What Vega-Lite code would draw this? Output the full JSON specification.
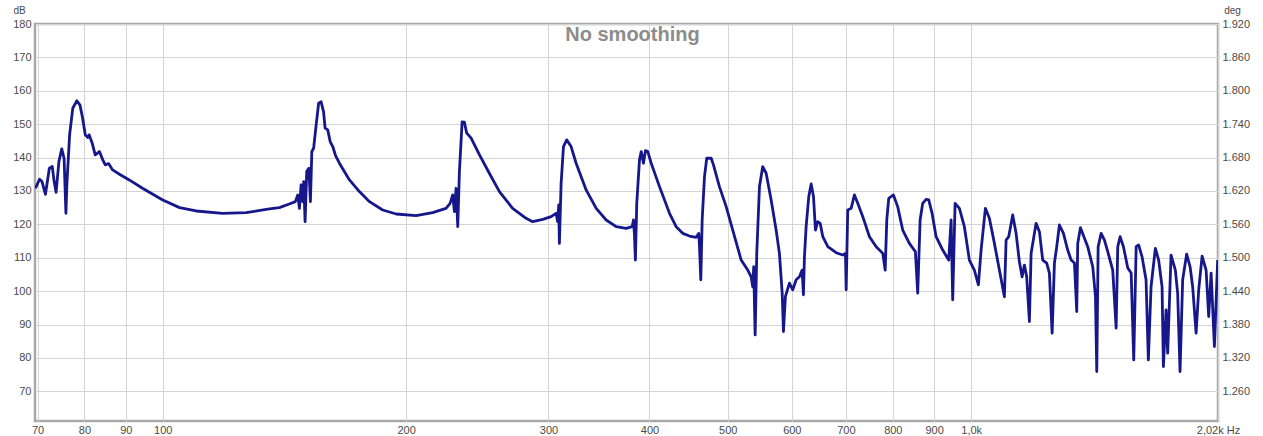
{
  "$schema": "https://vega.github.io/schema/vega-lite/v6.json",
  "autosize": "none",
  "width": 1183,
  "height": 397,
  "padding": {"left": 35, "top": 24, "right": 45, "bottom": 15},
  "background": "white",
  "config": {
    "view": {"stroke": "#a8a8a8", "strokeWidth": 2.5},
    "font": "Liberation Sans",
    "axis": {"labelFont": "Liberation Sans", "labelFontSize": 11, "labelColor": "#4a4a4a", "titleFont": "Liberation Sans", "titleFontWeight": "normal", "titleFontSize": 10, "titleColor": "#4a4a4a", "domain": false, "ticks": false, "gridColor": "#d4d4d4", "gridWidth": 1}
  },
  "title": {"text": "No smoothing", "fontSize": 20, "fontWeight": "bold", "color": "#8c8c8c", "font": "Liberation Sans", "offset": -40, "anchor": "middle", "dx": 6},
  "data": {"values": [
    {"hz":69.6,"db":130.8},{"hz":70.4,"db":133.5},{"hz":70.9,"db":132.8},{"hz":71.6,"db":129.0},{"hz":72.4,"db":136.8},{"hz":73.0,"db":137.3},{"hz":73.4,"db":132.8},{"hz":73.8,"db":129.6},{"hz":74.4,"db":138.8},{"hz":75.0,"db":142.6},{"hz":75.5,"db":139.8},{"hz":75.9,"db":123.3},{"hz":76.1,"db":131.8},{"hz":76.7,"db":146.8},{"hz":77.4,"db":154.8},{"hz":78.3,"db":157.0},{"hz":79.0,"db":155.7},{"hz":79.6,"db":151.8},{"hz":80.2,"db":146.8},{"hz":80.8,"db":146.0},{"hz":81.1,"db":146.8},{"hz":81.8,"db":144.3},{"hz":82.5,"db":140.8},{"hz":83.5,"db":141.8},{"hz":84.3,"db":139.3},{"hz":84.9,"db":137.8},{"hz":85.7,"db":138.2},{"hz":86.7,"db":136.3},{"hz":88.4,"db":135.0},{"hz":90.9,"db":133.3},{"hz":94.4,"db":130.8},{"hz":100.0,"db":127.3},{"hz":104.9,"db":125.0},{"hz":110.0,"db":124.0},{"hz":118.6,"db":123.3},{"hz":126.8,"db":123.5},{"hz":135.5,"db":124.6},{"hz":139.4,"db":125.0},{"hz":143.4,"db":126.1},{"hz":145.9,"db":126.8},{"hz":146.9,"db":128.8},{"hz":147.6,"db":124.8},{"hz":148.3,"db":131.8},{"hz":149.0,"db":126.8},{"hz":149.4,"db":132.8},{"hz":150.0,"db":120.8},{"hz":150.7,"db":135.8},{"hz":151.6,"db":136.8},{"hz":152.3,"db":126.8},{"hz":152.9,"db":141.8},{"hz":153.7,"db":142.8},{"hz":154.8,"db":149.8},{"hz":155.9,"db":156.3},{"hz":157.0,"db":156.7},{"hz":158.1,"db":153.7},{"hz":158.8,"db":148.8},{"hz":160.0,"db":148.3},{"hz":161.1,"db":144.8},{"hz":162.3,"db":143.3},{"hz":163.6,"db":140.6},{"hz":165.4,"db":138.3},{"hz":170.2,"db":133.3},{"hz":175.1,"db":129.8},{"hz":180.2,"db":126.8},{"hz":187.1,"db":124.3},{"hz":194.4,"db":123.1},{"hz":205.8,"db":122.6},{"hz":215.7,"db":123.5},{"hz":224.1,"db":124.8},{"hz":226.7,"db":126.3},{"hz":228.4,"db":128.8},{"hz":229.5,"db":123.8},{"hz":230.6,"db":130.8},{"hz":231.7,"db":119.3},{"hz":232.8,"db":135.8},{"hz":234.6,"db":150.7},{"hz":236.1,"db":150.6},{"hz":237.7,"db":147.3},{"hz":240.7,"db":145.8},{"hz":246.5,"db":140.8},{"hz":253.5,"db":135.3},{"hz":260.9,"db":129.8},{"hz":270.9,"db":124.8},{"hz":281.5,"db":121.8},{"hz":286.8,"db":120.8},{"hz":295.2,"db":121.5},{"hz":302.3,"db":122.3},{"hz":306.6,"db":123.3},{"hz":308.0,"db":120.8},{"hz":308.9,"db":125.8},{"hz":309.5,"db":114.3},{"hz":311.0,"db":132.1},{"hz":313.1,"db":143.3},{"hz":316.0,"db":145.3},{"hz":320.0,"db":143.3},{"hz":324.6,"db":138.3},{"hz":334.0,"db":130.3},{"hz":343.7,"db":124.8},{"hz":353.6,"db":121.3},{"hz":363.8,"db":119.3},{"hz":374.3,"db":118.8},{"hz":380.8,"db":119.3},{"hz":382.2,"db":121.3},{"hz":383.3,"db":116.8},{"hz":384.3,"db":109.3},{"hz":385.8,"db":126.3},{"hz":388.8,"db":139.3},{"hz":390.7,"db":141.8},{"hz":393.2,"db":138.3},{"hz":395.5,"db":142.1},{"hz":398.1,"db":141.8},{"hz":402.0,"db":138.3},{"hz":411.6,"db":131.3},{"hz":423.5,"db":123.3},{"hz":431.6,"db":119.3},{"hz":439.8,"db":117.3},{"hz":448.3,"db":116.5},{"hz":456.9,"db":116.1},{"hz":460.3,"db":117.3},{"hz":461.2,"db":113.8},{"hz":463.0,"db":103.4},{"hz":464.8,"db":121.3},{"hz":467.9,"db":134.3},{"hz":470.9,"db":139.8},{"hz":476.9,"db":139.8},{"hz":480.0,"db":137.8},{"hz":488.2,"db":131.3},{"hz":497.7,"db":125.3},{"hz":507.1,"db":118.3},{"hz":519.4,"db":109.3},{"hz":529.2,"db":106.3},{"hz":534.4,"db":104.3},{"hz":536.8,"db":101.3},{"hz":538.3,"db":107.3},{"hz":540.5,"db":86.9},{"hz":543.0,"db":111.3},{"hz":547.2,"db":131.3},{"hz":552.3,"db":137.3},{"hz":557.7,"db":135.3},{"hz":565.7,"db":127.3},{"hz":573.8,"db":118.3},{"hz":579.2,"db":111.3},{"hz":583.8,"db":99.4},{"hz":585.9,"db":87.9},{"hz":589.2,"db":98.4},{"hz":596.0,"db":102.4},{"hz":601.6,"db":100.4},{"hz":607.5,"db":103.4},{"hz":613.2,"db":104.3},{"hz":617.9,"db":106.3},{"hz":620.2,"db":98.9},{"hz":622.0,"db":110.3},{"hz":625.0,"db":119.3},{"hz":629.7,"db":128.3},{"hz":634.0,"db":132.1},{"hz":638.2,"db":128.3},{"hz":641.8,"db":118.3},{"hz":646.0,"db":120.8},{"hz":650.5,"db":120.3},{"hz":655.4,"db":116.3},{"hz":664.8,"db":113.3},{"hz":680.8,"db":111.5},{"hz":693.7,"db":110.8},{"hz":699.1,"db":111.3},{"hz":700.5,"db":100.4},{"hz":703.6,"db":124.3},{"hz":710.5,"db":124.8},{"hz":717.2,"db":128.8},{"hz":724.0,"db":126.3},{"hz":734.4,"db":122.3},{"hz":748.5,"db":116.3},{"hz":763.0,"db":113.3},{"hz":777.5,"db":111.3},{"hz":782.8,"db":106.3},{"hz":786.4,"db":121.3},{"hz":790.8,"db":127.8},{"hz":801.4,"db":128.8},{"hz":811.2,"db":125.3},{"hz":822.9,"db":118.3},{"hz":838.7,"db":114.3},{"hz":853.2,"db":111.8},{"hz":858.8,"db":99.4},{"hz":864.7,"db":121.3},{"hz":871.1,"db":126.3},{"hz":879.6,"db":127.5},{"hz":886.2,"db":127.3},{"hz":894.7,"db":123.3},{"hz":905.0,"db":116.3},{"hz":922.2,"db":112.3},{"hz":938.1,"db":109.3},{"hz":944.5,"db":121.3},{"hz":948.8,"db":97.4},{"hz":955.3,"db":126.3},{"hz":967.1,"db":124.8},{"hz":980.9,"db":119.3},{"hz":995.0,"db":109.3},{"hz":1009.2,"db":106.3},{"hz":1020.8,"db":101.9},{"hz":1028.7,"db":112.3},{"hz":1041.4,"db":124.8},{"hz":1053.3,"db":121.8},{"hz":1068.5,"db":114.3},{"hz":1083.8,"db":106.3},{"hz":1099.3,"db":98.3},{"hz":1104.7,"db":115.3},{"hz":1112.9,"db":116.3},{"hz":1125.6,"db":122.8},{"hz":1136.6,"db":117.3},{"hz":1147.3,"db":108.8},{"hz":1156.2,"db":104.3},{"hz":1163.8,"db":107.8},{"hz":1171.4,"db":104.3},{"hz":1180.5,"db":90.9},{"hz":1186.2,"db":111.3},{"hz":1203.2,"db":120.3},{"hz":1214.6,"db":117.8},{"hz":1226.1,"db":109.3},{"hz":1240.1,"db":108.4},{"hz":1249.7,"db":105.4},{"hz":1259.4,"db":87.4},{"hz":1267.7,"db":108.4},{"hz":1276.0,"db":113.3},{"hz":1285.8,"db":119.8},{"hz":1300.6,"db":117.3},{"hz":1316.6,"db":112.3},{"hz":1329.5,"db":109.3},{"hz":1342.1,"db":108.4},{"hz":1350.9,"db":93.9},{"hz":1354.7,"db":114.3},{"hz":1365.2,"db":119.0},{"hz":1380.9,"db":115.8},{"hz":1393.8,"db":113.3},{"hz":1413.9,"db":107.3},{"hz":1424.8,"db":98.4},{"hz":1430.2,"db":75.9},{"hz":1435.8,"db":113.3},{"hz":1448.1,"db":117.3},{"hz":1461.8,"db":115.3},{"hz":1475.6,"db":111.8},{"hz":1496.7,"db":106.3},{"hz":1511.3,"db":88.9},{"hz":1518.2,"db":113.3},{"hz":1528.6,"db":116.3},{"hz":1543.1,"db":113.3},{"hz":1562.2,"db":106.9},{"hz":1577.4,"db":105.4},{"hz":1589.0,"db":79.4},{"hz":1600.0,"db":113.3},{"hz":1611.4,"db":113.8},{"hz":1627.0,"db":110.3},{"hz":1645.7,"db":103.4},{"hz":1656.5,"db":79.4},{"hz":1669.3,"db":101.3},{"hz":1689.9,"db":112.8},{"hz":1705.9,"db":109.3},{"hz":1722.5,"db":101.3},{"hz":1729.0,"db":77.4},{"hz":1742.3,"db":94.4},{"hz":1750.2,"db":81.4},{"hz":1767.2,"db":110.8},{"hz":1788.9,"db":106.3},{"hz":1800.7,"db":99.4},{"hz":1813.0,"db":75.9},{"hz":1826.6,"db":103.4},{"hz":1847.5,"db":111.1},{"hz":1865.6,"db":107.3},{"hz":1879.5,"db":101.3},{"hz":1897.8,"db":87.4},{"hz":1912.0,"db":100.4},{"hz":1930.6,"db":110.5},{"hz":1952.7,"db":106.3},{"hz":1967.2,"db":92.4},{"hz":1980.7,"db":105.4},{"hz":1999.4,"db":83.4},{"hz":2018.1,"db":109.3}
  ]},
  "encoding": {
    "x": {"field": "hz", "type": "quantitative",
      "scale": {"type": "log", "domain": [69.5, 2020], "nice": false},
      "axis": {"title": null, "values": [70, 80, 90, 100, 200, 300, 400, 500, 600, 700, 800, 900, 1000, 2020], "labelExpr": "datum.value >= 2000 ? '2,02k Hz' : datum.value >= 1000 ? '1,0k' : format(datum.value, 'd')", "labelOverlap": false, "labelBound": false, "labelFlush": false, "labelPadding": 3, "labelColor": "#4a4a4a", "grid": true}}
  },
  "layer": [
    {
      "mark": {"type": "line", "color": "#17178c", "strokeWidth": 2.8, "clip": true, "strokeJoin": "round"},
      "encoding": {
        "y": {"field": "db", "type": "quantitative",
          "scale": {"domain": [61.1, 180], "nice": false, "zero": false},
          "axis": {"orient": "left", "title": "dB", "titleAngle": 0, "titleX": -16, "titleY": -9, "titleAlign": "center", "titleBaseline": "bottom", "values": [70, 80, 90, 100, 110, 120, 130, 140, 150, 160, 170, 180], "labelPadding": 4, "grid": true}}
      }
    },
    {
      "mark": {"type": "line", "opacity": 0, "clip": true},
      "encoding": {
        "y": {"field": "db", "type": "quantitative",
          "scale": {"domain": [61.1, 180], "nice": false, "zero": false},
          "axis": {"orient": "right", "title": "deg", "titleAngle": 0, "titleX": 14, "titleY": -9, "titleAlign": "center", "titleBaseline": "bottom", "values": [70, 80, 90, 100, 110, 120, 130, 140, 150, 160, 170, 180], "labelExpr": "format(1.26 + (datum.value - 70) * 0.006, '.3f')", "labelPadding": 4, "grid": false}}
      }
    }
  ],
  "resolve": {"axis": {"y": "independent"}}
}
